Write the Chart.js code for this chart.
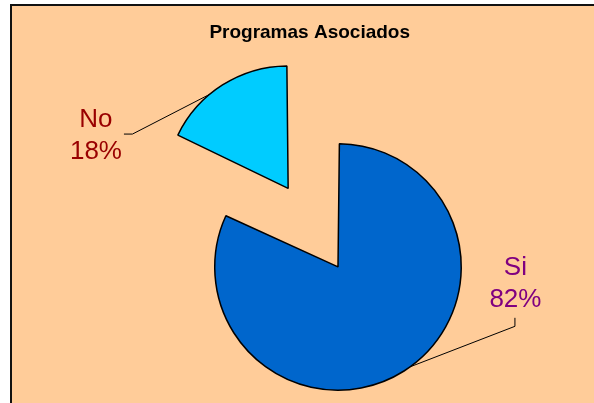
<!DOCTYPE html>
<html>
<head>
<meta charset="utf-8">
<title>Programas Asociados</title>
<script src="https://cdn.jsdelivr.net/npm/chart.js@4.4.0/dist/chart.umd.min.js"></script>
<style>
  html, body { margin: 0; padding: 0; background: #fff; width: 594px; height: 403px; overflow: hidden; }
  #frame { position: absolute; left: 10px; top: 4px; width: 600px; height: 420px;
           background: #ffcc99; border-left: 2px solid #111; border-top: 2px solid #111; }
  #wrap { position: absolute; left: 0; top: 0; width: 594px; height: 403px; }
</style>
</head>
<body>
<div id="frame"></div>
<div id="wrap"><canvas id="pieChart" width="594" height="403"></canvas></div>
<script>
// ========== Data ==========
const chartTitle = 'Programas Asociados';
const categories = ['Si', 'No'];
const percentages = [82, 18];
const sliceColors = ['#0066cc', '#00ccff'];
const labelColors = ['#800080', '#990000'];

// ========== Slice labels with leader lines ==========
const sliceLabels = {
  id: 'sliceLabels',
  afterDatasetsDraw(chart, args, opts) {
    const ctx = chart.ctx;
    const meta = chart.getDatasetMeta(0);
    meta.data.forEach((arc, i) => {
      const p = arc.getProps(['x', 'y', 'startAngle', 'endAngle', 'outerRadius', 'circumference'], true);
      const cfg = opts.items[i];
      // same shift / radius growth the arc element applies for its offset
      const half = (p.startAngle + p.endAngle) / 2;
      const t = (arc.options.offset || 0) / 4;
      const fix = 1 - Math.sin(Math.min(Math.PI, p.circumference));
      const r = p.outerRadius + t * fix;
      const cx = p.x + Math.cos(half) * t;
      const cy = p.y + Math.sin(half) * t;

      const a = p.startAngle + (p.endAngle - p.startAngle) * cfg.along;
      const ax = cx + Math.cos(a) * r, ay = cy + Math.sin(a) * r;
      const ex = ax + cfg.elbow[0], ey = ay + cfg.elbow[1];
      const tx = ex + cfg.tick[0], ty = ey + cfg.tick[1];

      ctx.save();
      ctx.strokeStyle = '#000';
      ctx.lineWidth = 1;
      ctx.beginPath();
      ctx.moveTo(ax, ay);
      ctx.lineTo(ex, ey);
      ctx.lineTo(tx, ty);
      ctx.stroke();

      ctx.fillStyle = labelColors[i];
      ctx.font = '26px "Liberation Sans", Arial, sans-serif';
      ctx.textAlign = 'center';
      ctx.textBaseline = 'alphabetic';
      const lx = tx + cfg.text[0], ly = ty + cfg.text[1];
      ctx.fillText(categories[i], lx, ly);
      ctx.fillText(percentages[i] + '%', lx, ly + 32.5);
      ctx.restore();
    });

    // title
    ctx.save();
    ctx.fillStyle = '#000';
    ctx.font = 'bold 19px "Liberation Sans", Arial, sans-serif';
    ctx.textAlign = 'center';
    ctx.textBaseline = 'alphabetic';
    ctx.fillText(chartTitle, opts.title.x, opts.title.y);
    ctx.restore();
  }
};

// ========== Pie ==========
new Chart(document.getElementById('pieChart'), {
  type: 'pie',
  data: {
    labels: categories,
    datasets: [{
      data: percentages,
      backgroundColor: sliceColors,
      borderColor: '#000',
      borderWidth: 1.5,
      offset: [35, 337],
      radius: 114.5
    }]
  },
  options: {
    responsive: false,
    animation: false,
    devicePixelRatio: 1,
    cutout: '0%',
    layout: { padding: { left: 72.6, top: 116.1, right: 0, bottom: 0 } },
    plugins: {
      legend: { display: false },
      tooltip: { enabled: false },
      title: { display: false },
      sliceLabels: {
        title: { x: 309.7, y: 37.7 },
        items: [
          { along: 0.488, elbow: [104.6, -40.4], tick: [0, -8.5], text: [0.5, -43] },
          { along: 0.386, elbow: [-77.3, 39.8], tick: [-8.5, 0], text: [-28, -7.2] }
        ]
      }
    }
  },
  plugins: [sliceLabels]
});
</script>
</body>
</html>
